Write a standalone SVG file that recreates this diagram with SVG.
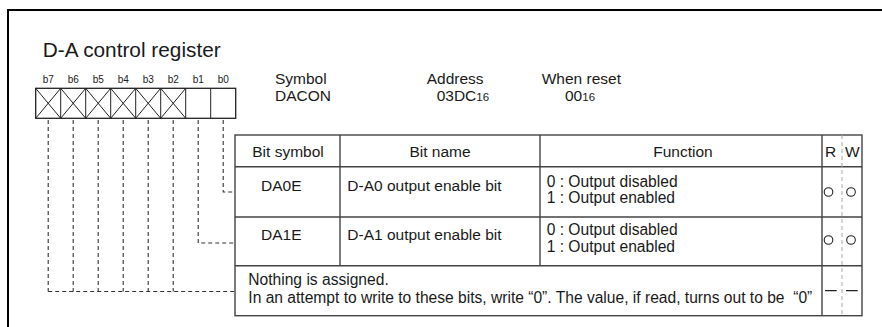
<svg xmlns="http://www.w3.org/2000/svg" width="882" height="327" viewBox="0 0 882 327">
<style>
text{font-family:"Liberation Sans",Arial,Helvetica,sans-serif;fill:#1a1a1a}
.t{font-size:15.5px}
.f{font-size:15.6px}
.b{font-size:10px}
.sub{font-size:11.5px}
.box{fill:#fff;stroke:#222;stroke-width:1.3}
.x{stroke:#222;stroke-width:1}
.tbl{fill:none;stroke:#444;stroke-width:1.4}
.dash{fill:none;stroke:#333;stroke-width:1.1;stroke-dasharray:4 3}
.rw{fill:none;stroke:#aaa;stroke-width:1;stroke-dasharray:4 3}
.c{fill:none;stroke:#222;stroke-width:1.1}
</style>
<rect width="882" height="327" fill="#fff"/>
<path d="M8,327 V10 H882" fill="none" stroke="#000" stroke-width="2"/>
<g id="title">
<text x="42.7" y="56.5" style="font-size:20.8px">D-A control register</text>
</g>
<g id="register">
<g text-anchor="middle">
<text class="b" x="48.2" y="82.7">b7</text>
<text class="b" x="73.2" y="82.7">b6</text>
<text class="b" x="98.2" y="82.7">b5</text>
<text class="b" x="123.2" y="82.7">b4</text>
<text class="b" x="148.2" y="82.7">b3</text>
<text class="b" x="173.2" y="82.7">b2</text>
<text class="b" x="198.2" y="82.7">b1</text>
<text class="b" x="223.2" y="82.7">b0</text>
</g>
<rect class="box" x="35.7" y="88.3" width="200" height="30"/>
<path class="x" d="M60.7,88.3V118.3M85.7,88.3V118.3M110.7,88.3V118.3M135.7,88.3V118.3M160.7,88.3V118.3M185.7,88.3V118.3M210.7,88.3V118.3"/>
<path class="x" d="M35.7,88.3L60.7,118.3M60.7,88.3L35.7,118.3M60.7,88.3L85.7,118.3M85.7,88.3L60.7,118.3M85.7,88.3L110.7,118.3M110.7,88.3L85.7,118.3M110.7,88.3L135.7,118.3M135.7,88.3L110.7,118.3M135.7,88.3L160.7,118.3M160.7,88.3L135.7,118.3M160.7,88.3L185.7,118.3M185.7,88.3L160.7,118.3"/>
</g>
<g id="info">
<text class="t" x="275" y="84">Symbol</text>
<text class="t" x="275" y="101">DACON</text>
<text class="t" x="426.7" y="84">Address</text>
<text class="t" x="436.7" y="101">03DC<tspan class="sub">16</tspan></text>
<text class="t" x="541.7" y="84">When reset</text>
<text class="t" x="565" y="101">00<tspan class="sub">16</tspan></text>
</g>
<g id="connectors">
<path class="dash" d="M223.2,120V192H235"/>
<path class="dash" d="M198.2,120V243H235"/>
<path class="dash" d="M48.2,120V291.5M73.2,120V291.5M98.2,120V291.5M123.2,120V291.5M148.2,120V291.5M173.2,120V291.5M48.2,291.5H235"/>
</g>
<g id="table">
<rect class="tbl" x="235" y="135" width="627" height="180.7"/>
<path class="tbl" d="M235,166.7H862M235,217H862M235,265.7H862M340,135V265.7M540,135V265.7M822,135V315.7"/>
<path class="rw" d="M842,135V315.7"/>
<g id="header">
<text class="t" x="288" y="156.7" text-anchor="middle">Bit symbol</text>
<text class="t" x="440" y="156.7" text-anchor="middle">Bit name</text>
<text class="t" x="683" y="156.7" text-anchor="middle">Function</text>
<text class="t" x="825" y="156.7">R</text>
<text class="t" x="845" y="156.7">W</text>
</g>
<g id="row-da0e">
<text class="t" x="261" y="190.7">DA0E</text>
<text class="t" x="347.3" y="190.7">D-A0 output enable bit</text>
<text class="f" x="546.7" y="186.7">0 : Output disabled</text>
<text class="f" x="546.7" y="203.3">1 : Output enabled</text>
<circle class="c" cx="828.5" cy="192" r="4.3"/>
<circle class="c" cx="851" cy="192" r="4.3"/>
</g>
<g id="row-da1e">
<text class="t" x="261" y="239.5">DA1E</text>
<text class="t" x="347.3" y="239.5">D-A1 output enable bit</text>
<text class="f" x="546.7" y="235">0 : Output disabled</text>
<text class="f" x="546.7" y="251.6">1 : Output enabled</text>
<circle class="c" cx="828.5" cy="240" r="4.3"/>
<circle class="c" cx="851" cy="240" r="4.3"/>
</g>
<g id="row-nothing">
<text class="f" x="248.3" y="285">Nothing is assigned.</text>
<text class="f" x="248.3" y="302.5" xml:space="preserve">In an attempt to write to these bits, write “0”. The value, if read, turns out to be  “0”</text>
<path d="M825,290.7H836.7M846,290.7H857.7" stroke="#222" stroke-width="1.3"/>
</g>
</g>
</svg>
